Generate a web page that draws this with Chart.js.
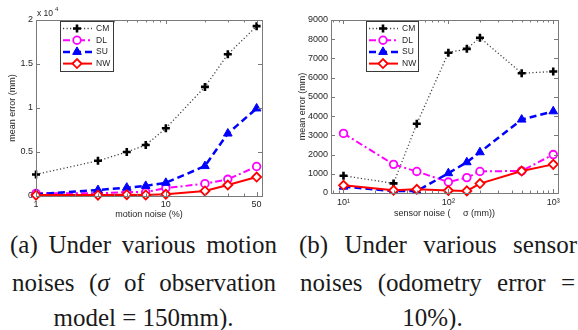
<!DOCTYPE html>
<html lang="en">
<head>
    <meta charset="UTF-8">
    <title>Mean error under motion and sensor noise</title>
    <style>
        body {
            margin: 0;
            background-color: #ffffff;
        }

        .page {
            position: relative;
            width: 578px;
            height: 330px;
            overflow: hidden;
            background-color: #ffffff;
        }

        canvas {
            position: absolute;
            top: 0;
        }

        .cap {
            position: absolute;
            font-family: 'Liberation Serif', 'DejaVu Serif', serif;
            font-size: 25px;
            line-height: 30px;
            color: #1a1a1a;
        }

        .just {
            text-align: justify;
            text-align-last: justify;
        }

        .center {
            text-align: center;
        }
    </style>
</head>
<body>
    <div class="page">
        <canvas id="motionChart" width="289" height="222" style="left:0"></canvas>
        <canvas id="sensorChart" width="289" height="222" style="left:289px"></canvas>

        <div class="cap just" style="left:10px; top:230px; width:267px">(a) Under various motion</div>
        <div class="cap just" style="left:12px; top:268px; width:264px">noises (<i>σ</i> of observation</div>
        <div class="cap center" style="left:10px; top:303px; width:267px">model = 150mm).</div>

        <div class="cap just" style="left:299px; top:230px; width:278px">(b) Under various sensor</div>
        <div class="cap just" style="left:300px; top:268px; width:275px">noises (odometry error =</div>
        <div class="cap center" style="left:300px; top:303px; width:265px">10%).</div>
    </div>

    <script src="https://cdn.jsdelivr.net/npm/chart.js"></script>
    <script>
        const seriesNames = ['CM', 'DL', 'SU', 'NW'];

        // (a) motion noise (%)
        const motionNoise = [1, 3, 5, 7, 10, 20, 30, 50];
        const motionCM = [2450, 4000, 5000, 5800, 7700, 12400, 16100, 19300];
        const motionDL = [300, 300, 450, 450, 900, 1400, 1900, 3350];
        const motionSU = [200, 680, 950, 1150, 1500, 3400, 7100, 9950];
        const motionNW = [100, 100, 150, 120, 200, 570, 1250, 2150];
        const motionTicks = [1, 10, 50];
        const motionTickLabels = ['1', '10', '50'];
        const motionMinorTicks = [2, 3, 4, 5, 6, 7, 8, 9, 20, 30, 40];

        // (b) sensor noise sigma (mm)
        const sensorNoise = [10, 30, 50, 100, 150, 200, 500, 1000];
        const sensorCM = [900, 500, 3600, 7300, 7500, 8080, 6230, 6320];
        const sensorDL = [3100, 1490, 1120, 570, 800, 1120, 1150, 2000];
        const sensorSU = [330, 100, 100, 1030, 1600, 2120, 3820, 4250];
        const sensorNW = [400, 140, 190, 130, 110, 490, 1140, 1490];
        const sensorTicks = [10, 100, 1000];
        const sensorTickLabels = ['10¹', '10²', '10³'];
        const sensorMinorTicks = [8, 9, 20, 30, 40, 50, 60, 70, 80, 90, 200, 300, 400, 500, 600, 700, 800, 900];

        const axisFont = { family: "'Liberation Sans', Arial, sans-serif", size: 9 };
        const textColor = '#262626';

        // matlab-ish look for each series
        const lineStyles = [
            { line: '#444444', dash: [1.2, 2.3], width: 1.3, point: 'cross', radius: 4, pWidth: 2.6, fill: '#000000', edge: '#000000' },
            { line: '#ff00ff', dash: [7, 3, 2, 3], width: 2, point: 'circle', radius: 3.8, pWidth: 1.8, fill: '#ffffff', edge: '#ff00ff' },
            { line: '#0000ff', dash: [7, 4], width: 2.5, point: 'triangle', radius: 5, pWidth: 1, fill: '#0000ff', edge: '#0000ff' },
            { line: '#ff0000', dash: [], width: 2, point: 'rectRot', radius: 4.5, pWidth: 1.8, fill: '#ffffff', edge: '#ff0000' }
        ];

        function buildDatasets(xs, seriesList) {
            return seriesList.map((ys, i) => {
                const s = lineStyles[i];
                return {
                    label: seriesNames[i],
                    data: xs.map((x, j) => ({ x: x, y: ys[j] })),
                    borderColor: s.line,
                    borderDash: s.dash,
                    borderWidth: s.width,
                    pointStyle: s.point,
                    pointRadius: s.radius,
                    pointBorderWidth: s.pWidth,
                    pointBackgroundColor: s.fill,
                    pointBorderColor: s.edge,
                    tension: 0,
                    clip: false,
                    order: 3 - i
                };
            });
        }

        // box, inward ticks, legend and exponent label
        const matlabBox = {
            id: 'matlabBox',
            afterDatasetsDraw(chart, args, o) {
                const ctx = chart.ctx;
                const a = chart.chartArea;
                const xs = chart.scales.x;
                const ys = chart.scales.y;
                ctx.save();
                ctx.strokeStyle = '#7a7a7a';
                ctx.lineWidth = 1;
                ctx.setLineDash([]);
                ctx.beginPath();
                o.xMajor.forEach(v => {
                    const px = Math.round(xs.getPixelForValue(v)) + 0.5;
                    ctx.moveTo(px, a.bottom); ctx.lineTo(px, a.bottom - 4);
                    ctx.moveTo(px, a.top); ctx.lineTo(px, a.top + 4);
                });
                o.xMinor.forEach(v => {
                    const px = Math.round(xs.getPixelForValue(v)) + 0.5;
                    ctx.moveTo(px, a.bottom); ctx.lineTo(px, a.bottom - 2.5);
                    ctx.moveTo(px, a.top); ctx.lineTo(px, a.top + 2.5);
                });
                ys.ticks.forEach(t => {
                    const py = Math.round(ys.getPixelForValue(t.value)) + 0.5;
                    ctx.moveTo(a.left, py); ctx.lineTo(a.left + 4, py);
                    ctx.moveTo(a.right, py); ctx.lineTo(a.right - 4, py);
                });
                ctx.stroke();
                ctx.strokeRect(Math.round(a.left) + 0.5, Math.round(a.top) + 0.5,
                    Math.round(a.right - a.left), Math.round(a.bottom - a.top));

                // legend
                const lg = o.legend;
                ctx.fillStyle = '#ffffff';
                ctx.fillRect(lg.x, lg.y, lg.w, lg.h);
                ctx.strokeStyle = '#3a3a3a';
                ctx.strokeRect(lg.x + 0.5, lg.y + 0.5, lg.w, lg.h);
                chart.data.datasets.forEach((ds, i) => {
                    const cy = lg.y + 7.5 + i * 11.7;
                    ctx.save();
                    ctx.strokeStyle = ds.borderColor;
                    ctx.lineWidth = ds.borderWidth;
                    ctx.setLineDash(ds.borderDash);
                    ctx.beginPath();
                    ctx.moveTo(lg.x + 3, cy);
                    ctx.lineTo(lg.x + 32, cy);
                    ctx.stroke();
                    ctx.restore();
                    ctx.fillStyle = ds.pointBackgroundColor;
                    ctx.strokeStyle = ds.pointBorderColor;
                    ctx.lineWidth = ds.pointBorderWidth;
                    Chart.helpers.drawPoint(ctx, {
                        pointStyle: ds.pointStyle,
                        radius: ds.pointRadius,
                        borderWidth: ds.pointBorderWidth,
                        rotation: 0
                    }, lg.x + 17, cy);
                    ctx.fillStyle = textColor;
                    ctx.font = "8.5px 'Liberation Sans', Arial, sans-serif";
                    ctx.textBaseline = 'middle';
                    ctx.textAlign = 'left';
                    ctx.fillText(ds.label, lg.x + 36, cy);
                });

                if (o.exponent) {
                    ctx.fillStyle = textColor;
                    ctx.textBaseline = 'alphabetic';
                    ctx.font = "8.5px 'Liberation Sans', Arial, sans-serif";
                    ctx.fillText('x 10', a.left + 1, a.top - 4);
                    const w = ctx.measureText('x 10').width;
                    ctx.font = "6px 'Liberation Sans', Arial, sans-serif";
                    ctx.fillText(o.exponent, a.left + 3 + w, a.top - 9);
                }
                ctx.restore();
            }
        };

        function makeChart(id, cfg) {
            const ctx = document.getElementById(id).getContext('2d');
            return new Chart(ctx, {
                type: 'line',
                data: { datasets: buildDatasets(cfg.xs, cfg.series) },
                plugins: [matlabBox],
                options: {
                    responsive: false,
                    animation: false,
                    devicePixelRatio: 1,
                    layout: { padding: { left: 0, top: 20, right: cfg.padRight, bottom: 0 } },
                    plugins: {
                        legend: { display: false },
                        tooltip: { enabled: false },
                        matlabBox: {
                            xMajor: cfg.ticks,
                            xMinor: cfg.minor,
                            legend: cfg.legend,
                            exponent: cfg.exponent
                        }
                    },
                    scales: {
                        x: {
                            type: 'logarithmic',
                            min: cfg.xMin,
                            max: cfg.xMax,
                            grid: { display: false, drawTicks: false },
                            border: { display: false },
                            afterBuildTicks: s => { s.ticks = cfg.ticks.map(v => ({ value: v })); },
                            afterFit: s => { s.height = cfg.xHeight; },
                            ticks: {
                                autoSkip: false,
                                maxRotation: 0,
                                padding: cfg.xPad,
                                color: textColor,
                                font: axisFont,
                                callback: (v, i) => cfg.tickLabels[i]
                            },
                            title: {
                                display: true,
                                text: cfg.xTitle,
                                color: textColor,
                                font: axisFont,
                                padding: { top: 0, bottom: cfg.xTitlePad }
                            }
                        },
                        y: {
                            min: 0,
                            max: cfg.yMax,
                            grid: { display: false, drawTicks: false },
                            border: { display: false },
                            afterFit: s => { s.width = cfg.yWidth; },
                            ticks: {
                                stepSize: cfg.yStep,
                                padding: 3,
                                color: textColor,
                                font: axisFont,
                                callback: cfg.yLabel
                            },
                            title: {
                                display: true,
                                text: 'mean error (mm)',
                                color: textColor,
                                font: axisFont,
                                padding: { top: cfg.yTitlePad, bottom: 0 }
                            }
                        }
                    }
                }
            });
        }

        makeChart('motionChart', {
            xs: motionNoise,
            series: [motionCM, motionDL, motionSU, motionNW],
            ticks: motionTicks,
            tickLabels: motionTickLabels,
            minor: motionMinorTicks,
            xMin: 1,
            xMax: 55,
            yMax: 20000,
            yStep: 5000,
            yLabel: v => String(v / 10000),
            xTitle: 'motion noise (%)',
            padRight: 27,
            yWidth: 36,
            xHeight: 26,
            xPad: 3,
            xTitlePad: 2,
            yTitlePad: 7,
            legend: { x: 60, y: 21, w: 53, h: 50 },
            exponent: '4'
        });

        makeChart('sensorChart', {
            xs: sensorNoise,
            series: [sensorCM, sensorDL, sensorSU, sensorNW],
            ticks: sensorTicks,
            tickLabels: sensorTickLabels,
            minor: sensorMinorTicks,
            xMin: 7.6,
            xMax: 1110,
            yMax: 9000,
            yStep: 1000,
            yLabel: v => String(v),
            xTitle: 'sensor noise (     σ (mm))',
            padRight: 20,
            yWidth: 42,
            xHeight: 29,
            xPad: 4,
            xTitlePad: 3,
            yTitlePad: 8,
            legend: { x: 77, y: 21, w: 52, h: 50 },
            exponent: null
        });
    </script>
</body>
</html>
